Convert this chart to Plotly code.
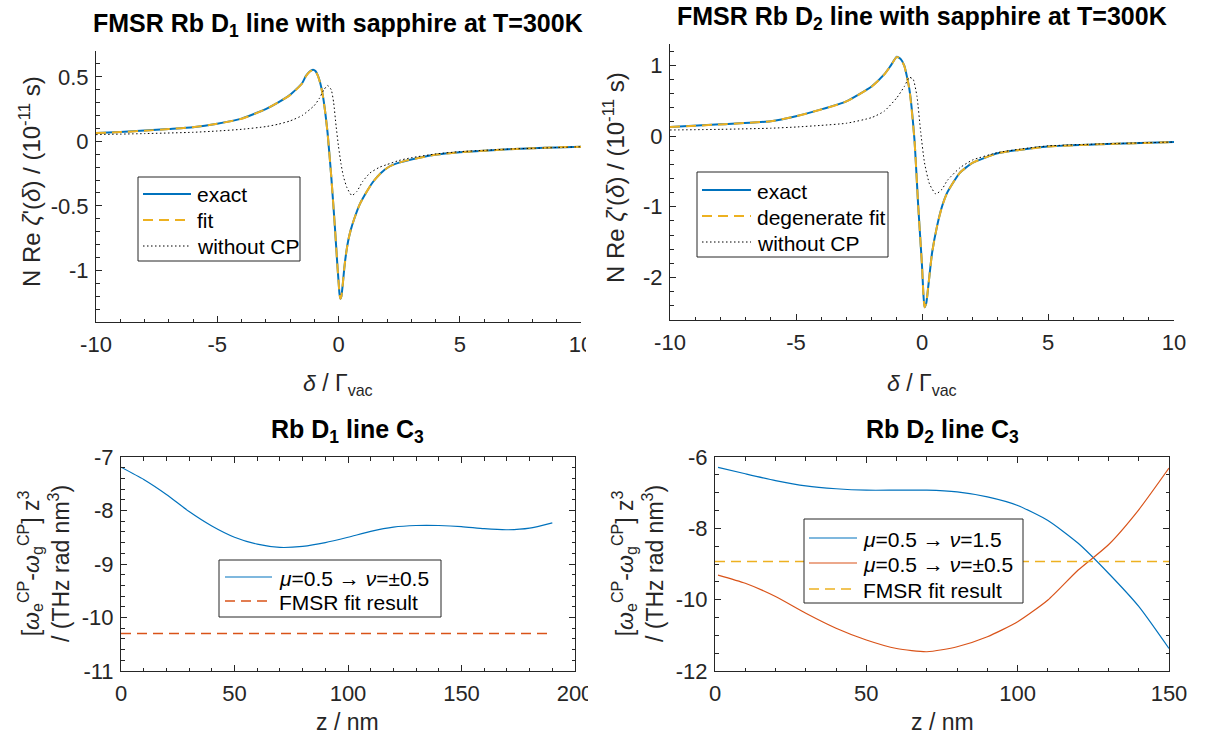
import plotly.graph_objects as go

W, H = 1205, 742
FONT = "Liberation Sans, Arial, Helvetica, sans-serif"
BLUE, ORANGE, YELLOW = "#0072BD", "#D95319", "#EDB120"
AX = "#262626"
DASH = "10px,6px"
DOT = "1.5px,2.5px"

# ---------------- data: Rb D1 FMSR ----------------
d1_delta = [-10, -9, -8, -7, -6, -5, -4, -3, -2.5, -2, -1.5, -1.35, -1.2, -1.05, -0.95, -0.85,
            -0.75, -0.65, -0.55, -0.45, -0.3, -0.15, -0.05, 0.0, 0.04, 0.08, 0.12, 0.18, 0.24,
            0.32, 0.4, 0.5, 0.65, 0.87, 1.1, 1.42, 1.75, 2.1, 2.5, 3, 4, 5, 6, 7, 8, 9, 10]
d1_exact = [0.065, 0.073, 0.083, 0.096, 0.11, 0.137, 0.176, 0.25, 0.30, 0.36, 0.45, 0.505, 0.54,
            0.555, 0.545, 0.51, 0.45, 0.36, 0.23, 0.065, -0.27, -0.66, -0.95, -1.08, -1.18,
            -1.22, -1.20, -1.10, -0.98, -0.86, -0.77, -0.69, -0.60, -0.49, -0.41, -0.315,
            -0.245, -0.195, -0.165, -0.14, -0.104, -0.085, -0.073, -0.062, -0.054, -0.047, -0.042]
d1_fit = [0.064, 0.072, 0.082, 0.095, 0.11, 0.136, 0.175, 0.249, 0.30, 0.358, 0.448, 0.503, 0.538,
          0.553, 0.543, 0.508, 0.448, 0.358, 0.228, 0.063, -0.27, -0.66, -0.95, -1.08, -1.18,
          -1.22, -1.20, -1.10, -0.98, -0.86, -0.77, -0.69, -0.60, -0.49, -0.41, -0.315,
          -0.245, -0.195, -0.165, -0.14, -0.104, -0.085, -0.073, -0.062, -0.054, -0.047, -0.042]
d1_nocp_delta = [-10, -8, -6, -5, -4, -3, -2.5, -2, -1.5, -1.0, -0.8, -0.6, -0.45, -0.3, -0.2,
                 -0.1, 0.0, 0.1, 0.2, 0.35, 0.55, 0.75, 1.0, 1.3, 1.7, 2, 2.5, 3, 4, 5, 6, 7, 8, 10]
d1_nocp = [0.052, 0.06, 0.07, 0.08, 0.093, 0.114, 0.132, 0.158, 0.20, 0.277, 0.33, 0.40, 0.433,
           0.40, 0.30, 0.12, -0.04, -0.17, -0.27, -0.36, -0.42, -0.39, -0.31, -0.245, -0.20,
           -0.18, -0.148, -0.127, -0.098, -0.08, -0.07, -0.06, -0.054, -0.042]

# ---------------- data: Rb D2 FMSR ----------------
d2_delta = [-10, -8, -6, -5, -4, -3, -2, -1.5, -1.25, -1.0, -0.85, -0.7, -0.5, -0.3, -0.15,
            0.0, 0.05, 0.1, 0.17, 0.25, 0.4, 0.6, 0.8, 1.0, 1.5, 2, 3, 4, 5, 7, 10]
d2_exact = [0.127, 0.165, 0.21, 0.28, 0.376, 0.49, 0.70, 0.87, 0.99, 1.12, 1.09, 0.99, 0.66,
            -0.05, -0.99, -1.83, -2.20, -2.42, -2.36, -2.12, -1.65, -1.27, -0.99, -0.80,
            -0.52, -0.38, -0.245, -0.19, -0.15, -0.118, -0.085]
d2_fit = [0.126, 0.164, 0.209, 0.279, 0.375, 0.488, 0.698, 0.868, 0.988, 1.118, 1.088, 0.988,
          0.658, -0.05, -0.99, -1.83, -2.20, -2.42, -2.36, -2.12, -1.65, -1.27, -0.99, -0.80,
          -0.52, -0.38, -0.245, -0.19, -0.15, -0.118, -0.085]
d2_nocp_delta = [-10, -8, -6, -5, -4, -3, -2, -1.5, -1.0, -0.7, -0.5, -0.35, -0.2, -0.05, 0.1,
                 0.3, 0.55, 0.8, 1.0, 1.5, 2, 3, 4, 5, 7, 10]
d2_nocp = [0.085, 0.094, 0.11, 0.127, 0.15, 0.18, 0.26, 0.35, 0.54, 0.70, 0.83, 0.80, 0.56,
           0.05, -0.38, -0.68, -0.82, -0.75, -0.63, -0.45, -0.34, -0.235, -0.18, -0.14,
           -0.113, -0.085]

# ---------------- data: C3 vs distance ----------------
c3_d1_z = [0, 10, 20, 30, 40, 50, 60, 70, 80, 90, 100, 110, 120, 130, 140, 150, 160, 170, 180, 190]
c3_d1_mu05_nu05 = [-7.19, -7.42, -7.70, -8.02, -8.29, -8.50, -8.63, -8.69, -8.67, -8.60, -8.50,
                   -8.39, -8.31, -8.28, -8.28, -8.30, -8.34, -8.36, -8.33, -8.23]
c3_d1_fit_z = [0, 190]
c3_d1_fit = [-10.30, -10.30]

c3_d2_z = [1, 10, 20, 30, 40, 50, 60, 70, 80, 90, 100, 110, 120, 130, 140, 150]
c3_d2_mu05_nu15 = [-6.29, -6.47, -6.66, -6.81, -6.89, -6.93, -6.93, -6.93, -6.98, -7.12, -7.36,
                   -7.78, -8.42, -9.26, -10.19, -11.37]
c3_d2_mu05_nu05 = [-9.31, -9.54, -9.91, -10.38, -10.80, -11.13, -11.37, -11.46, -11.32, -11.04,
                   -10.62, -10.01, -9.17, -8.46, -7.48, -6.31]
c3_d2_fit_z = [0, 150]
c3_d2_fit = [-8.93, -8.93]

# ---------------- tick labels ----------------
delta_ticks = [-10, -5, 0, 5, 10]
tl_yticks = [-1, -0.5, 0, 0.5]
tr_yticks = [-2, -1, 0, 1]
bl_xticks = [0, 50, 100, 150, 200]
bl_yticks = [-11, -10, -9, -8, -7]
br_xticks = [0, 50, 100, 150]
br_yticks = [-12, -10, -8, -6]

# legend labels
NAME_EXACT = "exact"
NAME_FIT = "fit"
NAME_DEGFIT = "degenerate fit"
NAME_NOCP = "without CP"
NAME_NU05 = "<i>μ</i>=0.5 → <i>ν</i>=±0.5"
NAME_NU15 = "<i>μ</i>=0.5 → <i>ν</i>=1.5"
NAME_FMSR = "FMSR fit result"


def lbl(v):
    return "%g" % v


def px(x):
    return x / W


def py(y):
    return 1 - y / H


fig = go.Figure()


def add_line(x, y, name, color, width, dash, xa, ya, spline=True, sm=0.5):
    line = dict(color=color, width=width)
    if dash:
        line["dash"] = dash
    if spline:
        line["shape"] = "spline"
        line["smoothing"] = sm
    fig.add_trace(go.Scatter(x=x, y=y, mode="lines", name=name, line=line,
                             xaxis=xa, yaxis=ya, showlegend=False))


# top-left
add_line(d1_delta, d1_exact, NAME_EXACT, BLUE, 2, None, "x", "y")
add_line(d1_delta, d1_fit, NAME_FIT, YELLOW, 2, DASH, "x", "y")
add_line(d1_nocp_delta, d1_nocp, NAME_NOCP, "black", 1, DOT, "x", "y")
# top-right
add_line(d2_delta, d2_exact, NAME_EXACT, BLUE, 2, None, "x2", "y2")
add_line(d2_delta, d2_fit, NAME_DEGFIT, YELLOW, 2, DASH, "x2", "y2")
add_line(d2_nocp_delta, d2_nocp, NAME_NOCP, "black", 1, DOT, "x2", "y2")
# bottom-left
add_line(c3_d1_z, c3_d1_mu05_nu05, NAME_NU05, BLUE, 1.2, None, "x3", "y3", sm=0.6)
add_line(c3_d1_fit_z, c3_d1_fit, NAME_FMSR, ORANGE, 1.5, DASH, "x3", "y3", spline=False)
# bottom-right
add_line(c3_d2_z, c3_d2_mu05_nu15, NAME_NU15, BLUE, 1.2, None, "x4", "y4", sm=0.6)
add_line(c3_d2_z, c3_d2_mu05_nu05, NAME_NU05, ORANGE, 1.2, None, "x4", "y4", sm=0.6)
add_line(c3_d2_fit_z, c3_d2_fit, NAME_FMSR, YELLOW, 1.6, DASH, "x4", "y4", spline=False)

TICKF = dict(family=FONT, size=22, color=AX)


def axis(domain, rng, tickvals, dtick_minor, anchor, mirror, standoff):
    return dict(domain=domain, range=rng, anchor=anchor, tickmode="array",
                tickvals=tickvals, ticktext=[lbl(v) for v in tickvals],
                ticks="inside", ticklen=6, tickwidth=1, tickcolor=AX,
                showline=True, linecolor=AX, linewidth=1, mirror=mirror,
                showgrid=False, zeroline=False, automargin=False, tickfont=TICKF,
                ticklabelstandoff=standoff,
                minor=dict(ticks="inside", ticklen=3.5, tickcolor=AX, dtick=dtick_minor,
                           tick0=0, showgrid=False))


xTL = [px(96), px(581)]
yTL = [py(322), py(51)]
xTR = [px(670), px(1174)]
yTR = [py(320), py(44)]
xBL = [px(121), px(575)]
xBR = [px(715), px(1169)]
yB = [py(671), py(457)]

fig.update_layout(
    width=W, height=H, margin=dict(l=0, r=0, t=0, b=0),
    paper_bgcolor="white", plot_bgcolor="white", template="none",
    font=dict(family=FONT, color=AX), showlegend=False,
    xaxis=axis(xTL, [-10, 10], delta_ticks, 1, "y", False, 3),
    yaxis=axis(yTL, [-1.4, 0.7], tl_yticks, 0.1, "x", False, 2),
    xaxis2=axis(xTR, [-10, 10], delta_ticks, 1, "y2", False, 3),
    yaxis2=axis(yTR, [-2.6, 1.3], tr_yticks, 0.2, "x2", False, 2),
    xaxis3=axis(xBL, [0, 200], bl_xticks, 10, "y3", "ticks", 3),
    yaxis3=axis(yB, [-11, -7], bl_yticks, 0.2, "x3", "ticks", 2),
    xaxis4=axis(xBR, [0, 150], br_xticks, 10, "y4", "ticks", 3),
    yaxis4=axis(yB, [-12, -6], br_yticks, 0.5, "x4", "ticks", 2),
)

ann = []
shapes = []


def text(x, y, s, size, angle=0, bold=False, anchor="center", color=None):
    ann.append(dict(x=px(x), y=py(y), xref="paper", yref="paper", text=(f"<b>{s}</b>" if bold else s),
                    showarrow=False, xanchor=anchor, yanchor="middle", textangle=angle,
                    font=dict(family=FONT, size=size,
                              color=color or ("black" if bold else AX))))


def legend_box(x0, y0, x1, y1, sx0, sx1, tx, rows):
    shapes.append(dict(type="rect", xref="paper", yref="paper", x0=px(x0), x1=px(x1),
                       y0=py(y1), y1=py(y0), fillcolor="white",
                       line=dict(color=AX, width=1), layer="above"))
    for (yy, name, color, width, dash) in rows:
        ln = dict(color=color, width=width)
        if dash:
            ln["dash"] = dash
        shapes.append(dict(type="line", xref="paper", yref="paper", x0=px(sx0), x1=px(sx1),
                           y0=py(yy), y1=py(yy), line=ln, layer="above"))
        text(tx, yy + 1, name, 21, anchor="left", color="black")


legend_box(138, 177, 300, 261, 143, 191, 195, [
    (194, NAME_EXACT, BLUE, 2, None),
    (220, NAME_FIT, YELLOW, 2, DASH),
    (246, NAME_NOCP, "black", 1, DOT)])
legend_box(697, 172, 888, 257, 702, 751, 755, [
    (190, NAME_EXACT, BLUE, 2, None),
    (216, NAME_DEGFIT, YELLOW, 2, DASH),
    (242, NAME_NOCP, "black", 1, DOT)])
legend_box(219, 560, 441, 617, 225, 272, 277, [
    (577, NAME_NU05, BLUE, 1.2, None),
    (601, NAME_FMSR, ORANGE, 1.5, DASH)])
legend_box(804, 519, 1023, 603, 809, 857, 861, [
    (538, NAME_NU15, BLUE, 1.2, None),
    (563, NAME_NU05, ORANGE, 1.2, None),
    (589, NAME_FMSR, YELLOW, 1.6, DASH)])

TITLE = 25
LAB = 23
YLAB = 24
text(338, 25, "FMSR Rb D<sub>1</sub> line with sapphire at T=300K", TITLE, bold=True)
text(922, 18, "FMSR Rb D<sub>2</sub> line with sapphire at T=300K", TITLE, bold=True)
text(348, 431, "Rb D<sub>1</sub> line C<sub>3</sub>", TITLE, bold=True)
text(942, 431, "Rb D<sub>2</sub> line C<sub>3</sub>", TITLE, bold=True)
text(338, 384, "<i>δ</i> / Γ<sub>vac</sub>", LAB)
text(922, 384, "<i>δ</i> / Γ<sub>vac</sub>", LAB)
text(348, 722, "z / nm", LAB)
text(942, 722, "z / nm", LAB)
ylab = "N Re <i>ζ</i>'(<i>δ</i>) / (10<sup>-11</sup> s)"
text(30, 182, ylab, YLAB, angle=-90)
text(614, 178, ylab, YLAB, angle=-90)
ylab2 = "[<i>ω</i><sub>e</sub><sup>CP</sup>-<i>ω</i><sub>g</sub><sup>CP</sup>] z<sup>3</sup><br>/ (THz rad nm<sup>3</sup>)"
text(44, 564, ylab2, LAB, angle=-90)
text(638, 564, ylab2, LAB, angle=-90)

# clipping of the right-most tick labels as in the original composite
shapes.append(dict(type="rect", xref="paper", yref="paper", x0=px(586), x1=px(605), y0=py(365),
                   y1=py(330), fillcolor="white", line=dict(width=0), layer="above"))
shapes.append(dict(type="rect", xref="paper", yref="paper", x0=px(588), x1=px(605), y0=py(708),
                   y1=py(678), fillcolor="white", line=dict(width=0), layer="above"))

fig.update_layout(annotations=ann, shapes=shapes)

fig.write_html("out.html")
